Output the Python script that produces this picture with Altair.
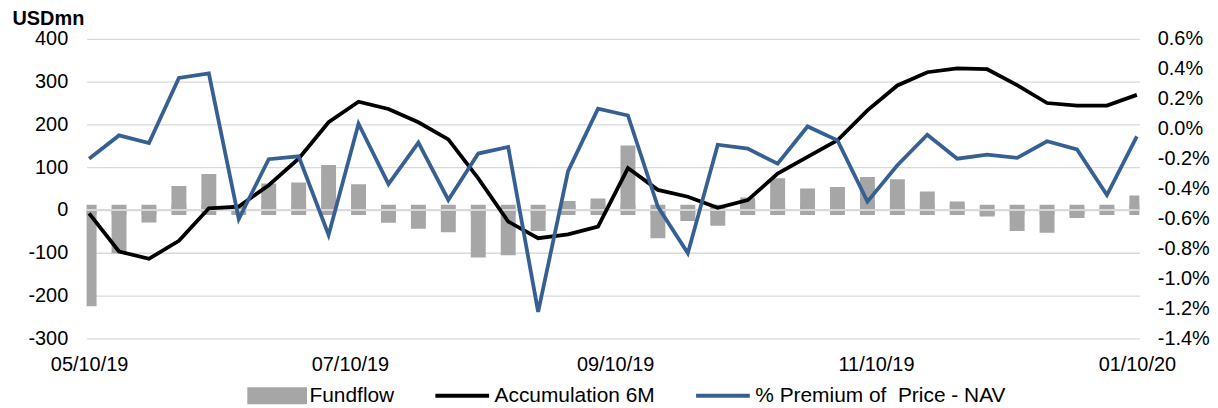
import altair as alt
import pandas as pd

# ---- data -------------------------------------------------------------
DATES = [d.strftime("%Y-%m-%d") for d in pd.date_range("2019-05-10", periods=36, freq="7D")]

FUNDFLOW = [-225, -101, -29, 56, 84, 3, 62, 64, 105, 60, -30, -44,
            -52, -111, -106, -49, 21, 27, 151, -66, -26, -37, 29, 74,
            50, 54, 77, 72, 43, 20, -15, -49, -53, -19, 5, 34]

ACCUM = [-8, -97, -114, -72, 4, 8, 58, 120, 205, 253, 236, 205,
         165, 74, -27, -66, -57, -39, 98, 47, 31, 5, 23, 85,
         124, 163, 233, 291, 322, 331, 329, 292, 250, 244, 244, 269]

PREMIUM = [-0.200, -0.045, -0.096, 0.339, 0.370, -0.603, -0.204, -0.184, -0.709, 0.033, -0.370, -0.093,
           -0.476, -0.166, -0.122, -1.223, -0.284, 0.133, 0.088, -0.521, -0.831, -0.107, -0.133, -0.233,
           0.015, -0.078, -0.487, -0.244, -0.040, -0.200, -0.173, -0.195, -0.084, -0.138, -0.443, -0.051]

SERIES = ["Fundflow", "Accumulation 6M", "% Premium of\u00a0 Price - NAV"]

LEFT_TICKS = [-300, -200, -100, 0, 100, 200, 300, 400]
RIGHT_TICKS = [-1.4, -1.2, -1.0, -0.8, -0.6, -0.4, -0.2, 0.0, 0.2, 0.4, 0.6]
X_TICKS = ["2019-05-10", "2019-07-10", "2019-09-10", "2019-11-10", "2020-01-10"]

# ---- style -------------------------------------------------------------
FONT = "Liberation Sans"
GRAY = "#A6A6A6"
BLACK = "#000000"
BLUE = "#376092"
GRID = "#D9D9D9"
COLORS = [GRAY, BLACK, BLUE]
SHAPES = ["M-3,-0.85H3V0.85H-3Z", "M-2.7,-0.2H2.7V0.2H-2.7Z", "M-2.7,-0.2H2.7V0.2H-2.7Z"]
STUB_HI, STUB_LO = 12, -12


def ms(s):
    return int(pd.Timestamp(s).value // 10**6)


df = pd.DataFrame({"date": DATES, "flow": FUNDFLOW, "acc": ACCUM, "prem": PREMIUM})
legend_df = pd.DataFrame({"series": SERIES, "date": [DATES[0]] * 3})

x_enc = alt.X(
    "date:T",
    scale=alt.Scale(type="utc", domain=[ms(DATES[0]), ms(DATES[-1])], padding=2.5, nice=False),
    axis=alt.Axis(values=[ms(t) for t in X_TICKS],
                  labelExpr="utcFormat(datum.value, '%m/%d/%y')",
                  labelFlush=False, labelOverlap=False, grid=False,
                  labelPadding=16, title=None),
)

left_scale = alt.Scale(domain=[-300, 400], nice=False, zero=False)
left_axis = alt.Axis(values=LEFT_TICKS, grid=True, gridColor=GRID, gridWidth=1.3,
                     labelPadding=19,
                     labelExpr="(datum.value < 0 ? '-' : '') + format(abs(datum.value), 'd')",
                     title="USDmn", titleAngle=0, titleAlign="left", titleBaseline="middle",
                     titleX=-75, titleY=-20, titleFont=FONT, titleFontSize=20,
                     titleFontWeight="bold", titleColor="#000000")

right_scale = alt.Scale(domain=[-1.4, 0.6], nice=False, zero=False)
right_axis = alt.Axis(orient="right", values=RIGHT_TICKS, grid=False, labelPadding=18,
                      labelExpr="(datum.value < 0 ? '-' : '') + format(abs(datum.value), '.1f') + '%'",
                      title=None)

base = alt.Chart(df)

stub = base.mark_bar(width=15, color=GRAY, clip=True).encode(
    x=x_enc,
    y=alt.YDatum(STUB_HI, scale=left_scale, axis=left_axis),
    y2=alt.Y2Datum(STUB_LO),
)

bars = base.mark_bar(width=15, color=GRAY, clip=True).encode(
    x=x_enc,
    y=alt.Y("flow:Q", scale=left_scale, axis=left_axis),
    y2=alt.Y2Datum(0),
)

zero_rule = base.mark_rule(color=GRID, strokeWidth=1.3).encode(
    y=alt.YDatum(0, scale=left_scale, axis=left_axis),
)

acc_line = base.mark_line(color=BLACK, strokeWidth=3.8).encode(
    x=x_enc,
    y=alt.Y("acc:Q", scale=left_scale, axis=left_axis),
)

legend_layer = alt.Chart(legend_df).mark_point(filled=True, opacity=0).encode(
    x=x_enc,
    y=alt.YDatum(0, scale=left_scale, axis=left_axis),
    color=alt.Color("series:N", scale=alt.Scale(domain=SERIES, range=COLORS), legend=alt.Legend(title=None)),
    shape=alt.Shape("series:N", scale=alt.Scale(domain=SERIES, range=SHAPES), legend=alt.Legend(title=None)),
)

left = alt.layer(stub, bars, zero_rule, acc_line, legend_layer)

prem_line = base.mark_line(color=BLUE, strokeWidth=3.8).encode(
    x=x_enc,
    y=alt.Y("prem:Q", scale=right_scale, axis=right_axis),
)

chart = (
    alt.layer(left, prem_line)
    .resolve_scale(y="independent")
    .properties(width=1058, height=301, padding={"left": 4, "top": 0, "right": 0, "bottom": 0})
    .configure_view(stroke=None)
    .configure_axis(labelFont=FONT, labelFontSize=20, labelColor="#000000",
                    domain=False, ticks=False)
    .configure_legend(orient="none", legendX=161, legendY=348, direction="horizontal",
                      columns=3, symbolSize=400, symbolStrokeWidth=0, symbolOffset=20,
                      labelOffset=22, columnPadding=37, labelFont=FONT, labelFontSize=21,
                      labelColor="#000000", symbolOpacity=1, padding=0, labelLimit=500)
)

chart.save("out.html", embed_options={"renderer": "svg", "actions": False})
